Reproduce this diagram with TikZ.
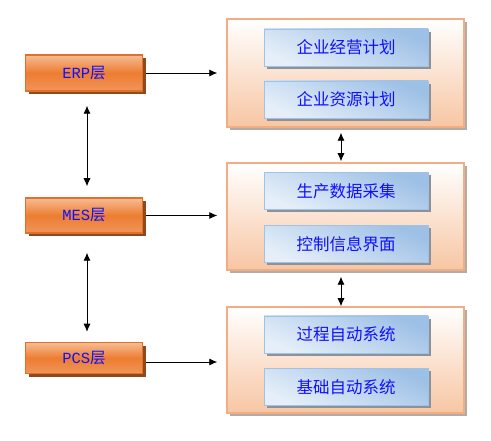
\documentclass[tikz,border=0pt]{standalone}
\usepackage{fontspec}
\newfontfamily\cjk{Noto Sans CJK SC}
\setmonofont{Liberation Mono}
\usetikzlibrary{arrows.meta,shadows}
\definecolor{txtblue}{HTML}{1010FF}
\definecolor{ortop}{HTML}{F6BC94}
\definecolor{ormid}{HTML}{ED7D31}
\definecolor{orbot}{HTML}{F0955A}
\definecolor{orborder}{HTML}{E2702A}
\definecolor{orshadow}{HTML}{8E4A1C}
\definecolor{pkbot}{HTML}{F7C6A3}
\definecolor{pkborder}{HTML}{F2AE82}
\definecolor{pkshadow}{HTML}{B3ABA6}
\definecolor{bltop}{HTML}{9DC0E6}
\definecolor{blbot}{HTML}{E6EFF9}
\definecolor{blborder}{HTML}{9DC3E6}
\definecolor{blshadow}{HTML}{8E9298}
\tikzset{
  layerbox/.style={rectangle, inner sep=0pt, minimum width=117pt, draw=orborder, line width=1.5pt,
    top color=ortop, bottom color=orbot, middle color=ormid,
    drop shadow={shadow xshift=3.5pt, shadow yshift=-3.5pt, fill=orshadow, opacity=1},
    text=txtblue, font=\ttfamily\fontsize{15.5}{17}\selectfont},
  groupbox/.style={rectangle, inner sep=0pt, minimum width=237pt, draw=pkborder, line width=1.5pt,
    top color=white, bottom color=pkbot,
    drop shadow={shadow xshift=3pt, shadow yshift=-3pt, fill=pkshadow, opacity=1}},
  itembox/.style={rectangle, inner sep=0pt, minimum width=164pt, minimum height=37pt, draw=blborder, line width=0.8pt,
    shading=axis, top color=bltop, bottom color=blbot, shading angle=-25,
    drop shadow={shadow xshift=3pt, shadow yshift=-3pt, fill=blshadow, opacity=1},
    text=txtblue, font=\cjk\fontsize{16.5}{19}\selectfont},
  conn/.style={line width=0.8pt, -{Latex[length=8pt,width=7pt]}},
  dconn/.style={line width=0.8pt, {Latex[length=8pt,width=7pt]}-{Latex[length=8pt,width=7pt]}}
}
\begin{document}
\begin{tikzpicture}[x=1pt,y=-1pt]
\useasboundingbox (0,0) rectangle (491,441);
% right groups
\node[groupbox, minimum height=108pt] (g1) at (345.5,73) {};
\node[groupbox, minimum height=107pt] (g2) at (345.5,216.5) {};
\node[groupbox, minimum height=106pt] (g3) at (345.5,360) {};
% items
\node[itembox] (i1) at (346,47.5) {企业经营计划};
\node[itembox] (i2) at (346,99.5) {企业资源计划};
\node[itembox] (i3) at (346,191) {生产数据采集};
\node[itembox] (i4) at (346,244) {控制信息界面};
\node[itembox] (i5) at (346,334.5) {过程自动系统};
\node[itembox] (i6) at (346,387) {基础自动系统};
% left layers
\node[layerbox, minimum height=36pt] (erp) at (84,73) {ERP{\cjk 层}};
\node[layerbox, minimum height=35pt] (mes) at (84,215.5) {MES{\cjk 层}};
\node[layerbox, minimum height=31pt] (pcs) at (84,358) {PCS{\cjk 层}};
% horizontal arrows
\draw[conn, shorten >=9pt] ([xshift=3pt]erp.east) -- (erp.east -| g1.west);
\draw[conn, shorten >=9pt] ([xshift=3pt]mes.east) -- (mes.east -| g2.west);
\draw[conn, shorten >=9pt] ([xshift=3pt,yshift=-4pt]pcs.east) -- ([yshift=-4pt]pcs.east -| g3.west);
% vertical arrows left
\draw[dconn, shorten <=14pt, shorten >=11pt] ([xshift=3pt]erp.south) -- ([xshift=3pt]mes.north);
\draw[dconn, shorten <=19pt, shorten >=10pt] ([xshift=3pt]mes.south) -- ([xshift=3pt]pcs.north);
% vertical arrows right
\draw[dconn, shorten <=5pt, shorten >=1pt] ([xshift=-4.5pt]g1.south) -- ([xshift=-4.5pt]g2.north);
\draw[dconn, shorten <=6pt, shorten >=0pt] ([xshift=-4.5pt]g2.south) -- ([xshift=-4.5pt]g3.north);
\end{tikzpicture}
\end{document}
